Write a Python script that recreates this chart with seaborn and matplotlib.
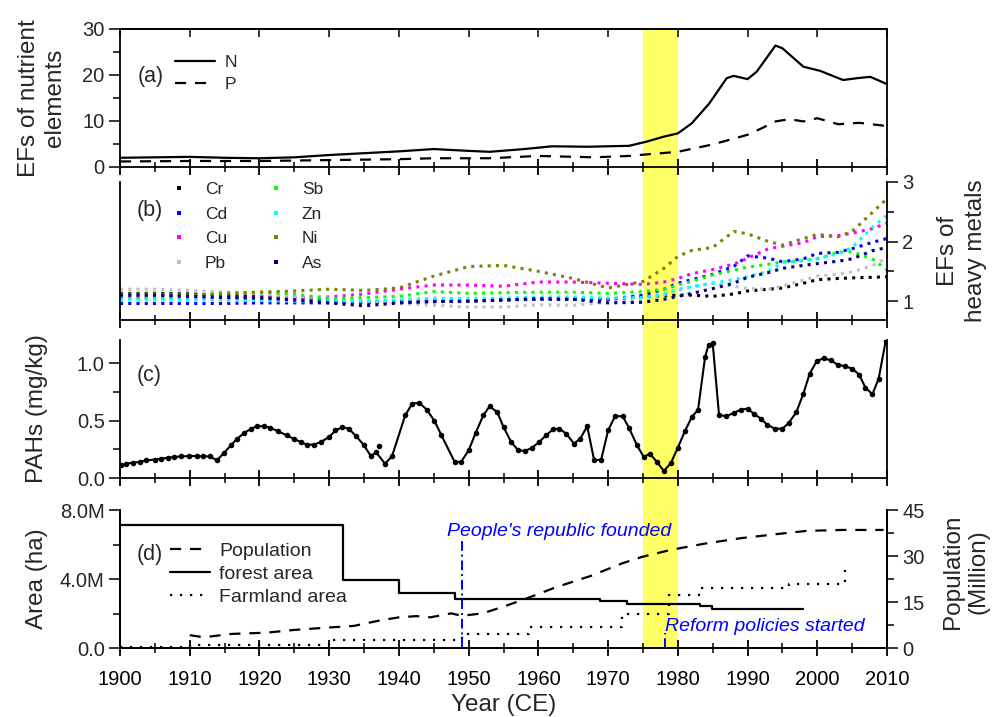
import numpy as np
import pandas as pd
import matplotlib
matplotlib.use("Agg")
from matplotlib import pyplot as plt
from matplotlib.lines import Line2D
from matplotlib.ticker import MultipleLocator, FuncFormatter
import seaborn as sns


# (a) enrichment factors of nutrient elements
n_years = [1900, 1905, 1910, 1915, 1920, 1925, 1930, 1935, 1940, 1945, 1950, 1953, 1958, 1962,
           1967, 1973, 1975.5, 1978, 1980, 1982, 1984.5, 1987, 1988, 1990, 1991.3, 1994, 1995,
           1998, 2000.4, 2003.7, 2005.7, 2007.6, 2010]
n_values = [2.0, 2.1, 2.2, 2.0, 1.9, 2.1, 2.6, 3.0, 3.4, 3.9, 3.5, 3.3, 3.9, 4.5,
            4.4, 4.6, 5.5, 6.6, 7.3, 9.5, 13.8, 19.3, 19.8, 19.1, 20.7, 26.4, 25.8,
            21.8, 20.9, 18.9, 19.3, 19.6, 18.0]
p_years = [1900, 1910, 1920, 1930, 1940, 1945, 1953, 1960, 1968, 1973, 1976, 1980, 1985,
           1990, 1992, 1994, 1996, 1998, 2000, 2003, 2006, 2010]
p_values = [1.2, 1.3, 1.3, 1.5, 1.7, 1.9, 1.9, 2.4, 2.1, 2.4, 2.8, 3.3, 4.9,
            7.0, 8.4, 9.9, 10.4, 9.9, 10.6, 9.3, 9.6, 8.9]

# (b) enrichment factors of heavy metals
metal_years = [1900, 1905, 1910, 1915, 1920, 1925, 1930, 1935, 1940, 1945, 1950, 1955, 1960, 1965,
               1970, 1975, 1978, 1980, 1982, 1985, 1988, 1990, 1993, 1995, 1998, 2000, 2003, 2005,
               2008, 2010]
cr = [1.13, 1.13, 1.12, 1.10, 1.08, 1.05, 1.00, 0.98, 1.00, 1.00, 1.00, 1.02, 1.04, 1.04,
      1.03, 1.07, 1.09, 1.10, 1.10, 1.08, 1.12, 1.17, 1.20, 1.22, 1.30, 1.36, 1.38, 1.39, 1.40, 1.41]
cd = [0.96, 0.96, 0.96, 0.96, 0.97, 0.97, 0.97, 0.98, 0.98, 1.00, 1.00, 1.02, 1.03, 1.03,
      1.03, 1.10, 1.20, 1.30, 1.36, 1.45, 1.58, 1.76, 1.72, 1.66, 1.71, 1.80, 1.82, 1.88, 1.99, 2.05]
cu = [1.06, 1.06, 1.05, 1.05, 1.05, 1.06, 1.07, 1.12, 1.20, 1.27, 1.27, 1.25, 1.32, 1.32,
      1.30, 1.28, 1.32, 1.38, 1.46, 1.53, 1.62, 1.72, 1.88, 1.92, 1.98, 2.08, 2.10, 2.14, 2.22, 2.31]
pb = [1.20, 1.20, 1.18, 1.15, 1.12, 1.08, 1.05, 1.00, 0.96, 0.93, 0.90, 0.90, 0.94, 0.93,
      0.98, 1.03, 1.10, 1.18, 1.24, 1.30, 1.25, 1.21, 1.20, 1.25, 1.35, 1.42, 1.45, 1.49, 1.60, 1.73]
sb = [1.04, 1.05, 1.08, 1.14, 1.15, 1.12, 1.04, 1.06, 1.08, 1.16, 1.13, 1.14, 1.15, 1.15,
      1.13, 1.16, 1.20, 1.27, 1.33, 1.44, 1.52, 1.57, 1.62, 1.66, 1.68, 1.71, 1.82, 1.83, 1.70, 1.52]
zn = [1.02, 1.02, 1.02, 1.02, 1.01, 1.00, 1.00, 1.00, 1.02, 1.05, 1.04, 1.05, 1.07, 1.07,
      1.05, 1.06, 1.12, 1.20, 1.24, 1.30, 1.36, 1.41, 1.50, 1.65, 1.68, 1.71, 1.80, 1.90, 2.25, 2.44]
ni = [1.12, 1.12, 1.10, 1.12, 1.15, 1.17, 1.20, 1.18, 1.22, 1.42, 1.58, 1.60, 1.50, 1.38,
      1.22, 1.33, 1.55, 1.75, 1.85, 1.90, 2.17, 2.13, 2.00, 1.94, 2.05, 2.12, 2.08, 2.17, 2.50, 2.72]
as_ = [1.10, 1.10, 1.08, 1.06, 1.05, 1.02, 0.97, 0.92, 0.97, 0.99, 1.00, 1.02, 1.04, 1.03,
       0.97, 0.98, 1.03, 1.08, 1.13, 1.21, 1.30, 1.40, 1.48, 1.55, 1.60, 1.63, 1.67, 1.71, 1.85, 1.90]
metal_names = ["Cr", "Cd", "Cu", "Pb", "Sb", "Zn", "Ni", "As"]
metal_colors = ["#000000", "#0000FF", "#FF00FF", "#C0C0C0", "#00FF00", "#00FFFF", "#808000", "#000080"]

# (c) PAHs
pah_years = [1900.1, 1900.9, 1901.8, 1902.8, 1903.8, 1905.0, 1905.9, 1906.9, 1907.8, 1908.8,
             1909.9, 1911.0, 1911.9, 1912.9, 1913.9, 1914.9, 1915.9, 1916.8, 1917.8, 1918.8,
             1919.6, 1920.6, 1921.5, 1922.7, 1923.9, 1924.9, 1925.9, 1926.8, 1927.8, 1928.8,
             1930.0, 1930.9, 1931.9, 1932.8, 1933.9, 1935.0, 1936.0, 1936.7, 1938.0, 1939.0,
             1940.9, 1941.9, 1942.9, 1944.0, 1945.1, 1946.1, 1948.0, 1948.9, 1950.0, 1951.0,
             1952.1, 1953.0, 1954.1, 1955.0, 1956.1, 1957.1, 1958.1, 1959.1, 1960.1, 1961.1,
             1962.1, 1963.0, 1964.0, 1965.1, 1966.0, 1967.0, 1968.0, 1969.0, 1970.0, 1971.0,
             1972.1, 1973.0, 1974.1, 1975.1, 1976.0, 1977.0, 1978.0, 1979.0, 1980.0, 1981.0,
             1982.0, 1982.9, 1983.9, 1984.4, 1985.0, 1985.9, 1986.9, 1988.0, 1989.0, 1990.0,
             1990.9, 1991.9, 1992.8, 1993.9, 1995.0, 1995.9, 1997.0, 1998.0, 1998.9, 1999.9,
             2000.9, 2001.9, 2002.9, 2004.0, 2005.0, 2006.0, 2006.9, 2007.9, 2008.8, 2009.8]
pah_values = [0.11, 0.125, 0.133, 0.14, 0.154, 0.16, 0.168, 0.177, 0.183, 0.188,
              0.191, 0.191, 0.188, 0.188, 0.154, 0.217, 0.284, 0.342, 0.391, 0.429,
              0.449, 0.452, 0.438, 0.406, 0.371, 0.342, 0.313, 0.29, 0.29, 0.313,
              0.357, 0.414, 0.443, 0.429, 0.362, 0.284, 0.188, 0.226, 0.125, 0.188,
              0.545, 0.646, 0.655, 0.594, 0.496, 0.371, 0.139, 0.139, 0.241, 0.391,
              0.545, 0.623, 0.574, 0.443, 0.313, 0.241, 0.235, 0.264, 0.313, 0.371,
              0.423, 0.429, 0.386, 0.299, 0.342, 0.45, 0.154, 0.159, 0.414, 0.539,
              0.536, 0.435, 0.29, 0.183, 0.212, 0.139, 0.061, 0.13, 0.264, 0.406,
              0.53, 0.594, 1.05, 1.16, 1.17, 0.551, 0.536, 0.565, 0.594, 0.603,
              0.559, 0.516, 0.464, 0.429, 0.429, 0.478, 0.574, 0.733, 0.907, 1.014,
              1.043, 1.023, 0.986, 0.971, 0.951, 0.899, 0.786, 0.728, 0.864, 1.19]
pah_extra_years = [1937.1]
pah_extra_values = [0.275]

# (d) land use and population
forest_years = [1900, 1932, 1940, 1948, 1968.8, 1972.7, 1983.2, 1984.9, 1998]
forest_area = [7.13e6, 3.94e6, 3.17e6, 2.84e6, 2.74e6, 2.55e6, 2.46e6, 2.28e6, 2.28e6]
farm_years = [1900, 1910, 1930, 1949, 1958.6, 1972, 1978.8, 1983, 1996, 2004]
farm_area = [0.08e6, 0.17e6, 0.46e6, 0.81e6, 1.24e6, 2.0e6, 3.1e6, 3.5e6, 3.71e6, 4.52e6]
pop_years = [1910, 1912, 1916, 1921, 1925, 1930, 1933.5, 1937.5, 1940, 1942.5, 1944.5, 1947.5,
             1949, 1952, 1955, 1958, 1962.5, 1967.5, 1972, 1975, 1979, 1984, 1989, 1994,
             1998.5, 2003.5, 2009.5]
pop_values = [4.2, 3.5, 4.6, 5.0, 5.9, 6.7, 7.2, 9.1, 10.0, 10.4, 10.0, 11.3,
              10.5, 11.3, 13.5, 15.9, 19.8, 23.5, 27.6, 29.8, 32.0, 34.1, 35.8, 37.1,
              38.2, 38.5, 38.5]

event_years = [1949, 1978.2]
event_labels = ["People's republic founded", "Reform policies started"]
band = (1975, 1980)


sns.set_theme(style="ticks")
plt.rcParams["font.family"] = ["Liberation Sans", "DejaVu Sans"]
plt.rcParams["axes.linewidth"] = 1.3
plt.rcParams["axes.edgecolor"] = "black"

fig = plt.figure(figsize=(9.95, 7.17), dpi=100)
L, W, H = 0.1206, 0.7709, 0.1925

bg = fig.add_axes([L, 0.0962, W, 0.8634], zorder=0)
bg.set_xlim(1900, 2010)
bg.axvspan(*band, color="#FFFF66", lw=0)
bg.axis("off")

ax_a = fig.add_axes([L, 0.7671, W, H], zorder=1)
ax_b = fig.add_axes([L, 0.5537, W, H], zorder=1)
ax_c = fig.add_axes([L, 0.3333, W, H], zorder=1)
ax_d = fig.add_axes([L, 0.0962, W, H], zorder=1)
ax_d2 = ax_d.twinx()

for ax in [ax_a, ax_b, ax_c, ax_d, ax_d2]:
    ax.patch.set_visible(False)
    ax.set_xlim(1900, 2010)
    ax.xaxis.set_major_locator(MultipleLocator(10))
    ax.xaxis.set_minor_locator(MultipleLocator(5))
    ax.tick_params(axis="x", which="major", direction="inout", length=12, width=1.3,
                   labelbottom=False, labelsize=14.5, colors="black")
    ax.tick_params(axis="x", which="minor", direction="inout", length=7, width=1.3)
    ax.tick_params(axis="y", which="major", direction="out", length=8, width=1.3,
                   labelsize=14.5, pad=3)
    ax.tick_params(axis="y", which="minor", direction="out", length=5, width=1.3)

# ---- (a)
sns.lineplot(x=n_years, y=n_values, ax=ax_a, color="black", lw=1.6, errorbar=None)
sns.lineplot(x=p_years, y=p_values, ax=ax_a, color="black", lw=1.6, errorbar=None,
             linestyle=(0, (5, 4)))
ax_a.set_ylim(0, 30)
ax_a.yaxis.set_major_locator(MultipleLocator(10))
ax_a.yaxis.set_minor_locator(MultipleLocator(5))
top = ax_a.secondary_xaxis("top")
top.xaxis.set_major_locator(MultipleLocator(10))
top.tick_params(axis="x", direction="in", length=6, width=1.3, labeltop=False)
ax_a.set_xlabel("")
ax_a.set_ylabel("EFs of nutrient\nelements", fontsize=17.5, linespacing=1.25)
ax_a.yaxis.set_label_coords(-0.070, 0.5)
ax_a.text(0.0235, 0.652, "(a)", transform=ax_a.transAxes, fontsize=15.5, va="center")
h_a = [Line2D([], [], color="black", lw=1.6),
       Line2D([], [], color="black", lw=1.6, linestyle=(0, (5, 4)))]
ax_a.legend(h_a, ["N", "P"], loc="upper left", bbox_to_anchor=(0.0717, 0.815), frameon=False,
            fontsize=12.5, borderpad=0, borderaxespad=0, handlelength=2.3, handletextpad=0.55,
            labelspacing=0.42)

# ---- (b)
metal_df = pd.DataFrame({
    "year": metal_years * len(metal_names),
    "EF": cr + cd + cu + pb + sb + zn + ni + as_,
    "metal": np.repeat(metal_names, len(metal_years)),
})
sns.lineplot(data=metal_df, x="year", y="EF", hue="metal", hue_order=metal_names,
             palette=dict(zip(metal_names, metal_colors)), ax=ax_b, lw=2.2,
             linestyle=(0, (1, 1.7)), legend=False, errorbar=None)
ax_b.set_ylim(0.683, 3.0)
ax_b.spines["top"].set_visible(False)
ax_b.yaxis.tick_right()
ax_b.yaxis.set_major_locator(MultipleLocator(1))
ax_b.yaxis.set_minor_locator(MultipleLocator(0.5))
ax_b.yaxis.set_major_formatter(FuncFormatter(lambda v, p: f"{v:.0f}"))
ax_b.tick_params(axis="y", which="both", left=False, labelleft=False, right=True, labelright=True)
ax_b.set_xlabel("")
ax_b.set_ylabel("EFs of\nheavy metals", fontsize=17.5, linespacing=1.35)
ax_b.yaxis.set_label_position("right")
ax_b.yaxis.set_label_coords(1.065, 0.5)
ax_b.text(0.022, 0.79, "(b)", transform=ax_b.transAxes, fontsize=15.5, va="center")
h_b = [Line2D([], [], marker="s", markersize=2.6, linestyle="none", color=c, markeredgewidth=0)
       for c in metal_colors]
ax_b.legend(h_b, metal_names, loc="upper left", bbox_to_anchor=(0.060, 1.0), ncol=2,
            frameon=False, fontsize=12.5, borderpad=0, borderaxespad=0, handlelength=1.5,
            handletextpad=0.75, labelspacing=0.54, columnspacing=2.05)

# ---- (c)
sns.lineplot(x=pah_years, y=pah_values, ax=ax_c, color="black", lw=1.5, marker="o",
             markersize=4, markeredgewidth=0, errorbar=None)
sns.scatterplot(x=pah_extra_years, y=pah_extra_values, ax=ax_c, color="black", s=16,
                linewidth=0)
ax_c.set_ylim(0, 1.2)
ax_c.spines["top"].set_visible(False)
ax_c.yaxis.set_major_locator(MultipleLocator(0.5))
ax_c.yaxis.set_minor_locator(MultipleLocator(0.25))
ax_c.yaxis.set_major_formatter(FuncFormatter(lambda v, p: f"{v:.1f}"))
ax_c.set_xlabel("")
ax_c.set_ylabel("PAHs (mg/kg)", fontsize=17.5)
ax_c.yaxis.set_label_coords(-0.094, 0.5)
ax_c.text(0.022, 0.746, "(c)", transform=ax_c.transAxes, fontsize=15.5, va="center")

# ---- (d)
sns.lineplot(x=forest_years, y=forest_area, ax=ax_d, color="black", lw=1.6,
             drawstyle="steps-post", errorbar=None)
sns.lineplot(x=farm_years, y=farm_area, ax=ax_d, color="black", lw=1.6,
             drawstyle="steps-post", linestyle=(0, (1, 3.5)), errorbar=None)
sns.lineplot(x=pop_years, y=pop_values, ax=ax_d2, color="black", lw=1.6,
             linestyle=(0, (5, 4)), errorbar=None)
ax_d.set_ylim(0, 8e6)
ax_d.yaxis.set_major_locator(MultipleLocator(4e6))
ax_d.yaxis.set_minor_locator(MultipleLocator(2e6))
ax_d.yaxis.set_major_formatter(FuncFormatter(lambda v, p: "0.0" if v == 0 else f"{v / 1e6:.1f}M"))
ax_d2.set_ylim(0, 45)
ax_d2.yaxis.set_major_locator(MultipleLocator(15))
ax_d2.yaxis.set_minor_locator(MultipleLocator(7.5))
for ax in [ax_d, ax_d2]:
    ax.spines["top"].set_visible(False)
ax_d.tick_params(axis="x", which="major", labelbottom=True, pad=10)
ax_d.set_ylabel("Area (ha)", fontsize=17.5)
ax_d.yaxis.set_label_coords(-0.094, 0.5)
ax_d2.set_ylabel("Population\n(Million)", fontsize=17.5, linespacing=1.2)
ax_d2.yaxis.set_label_coords(1.072, 0.55)
ax_d.set_xlabel("Year (CE)", fontsize=17.5, visible=True)
ax_d.xaxis.set_label_coords(0.5, -0.33)
ax_d.text(0.022, 0.674, "(d)", transform=ax_d.transAxes, fontsize=15.5, va="center")

ax_d.axvline(event_years[0], ymin=0, ymax=0.797, color="blue", lw=1.4, linestyle=(0, (5, 2, 1, 2)))
ax_d.axvline(event_years[1], ymin=0, ymax=0.109, color="blue", lw=1.4, linestyle=(0, (5, 2, 1, 2)))
ax_d.text(1946.9, 6.74e6, event_labels[0], color="blue", fontsize=14, style="italic", va="center")
ax_d.text(1978.2, 1.24e6, event_labels[1], color="blue", fontsize=14, style="italic", va="center")

h_d = [Line2D([], [], color="black", lw=1.6, linestyle=(0, (5, 4))),
       Line2D([], [], color="black", lw=1.6),
       Line2D([], [], color="black", lw=1.6, linestyle=(0, (1, 3.5)))]
ax_d.legend(h_d, ["Population", "forest area", "Farmland area"], loc="upper left",
            bbox_to_anchor=(0.065, 0.765), frameon=False, fontsize=14, borderpad=0,
            borderaxespad=0, handlelength=2.05, handletextpad=0.5, labelspacing=0.27)

fig.savefig("out.png", dpi=100)
